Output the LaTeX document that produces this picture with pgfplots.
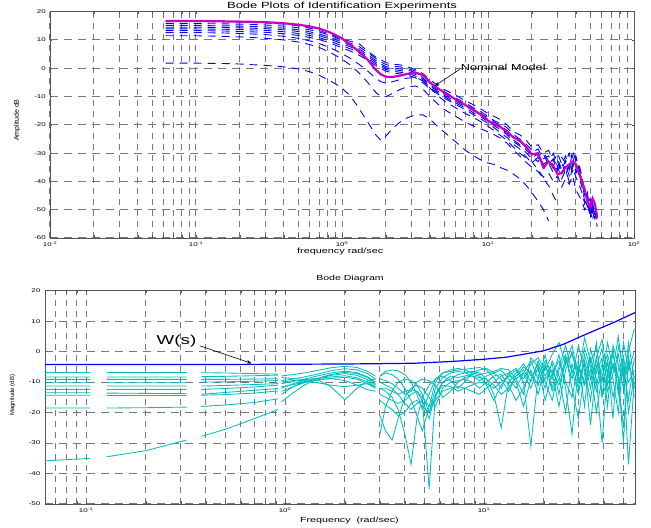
\documentclass[border=0pt]{standalone}
\usepackage{fontspec}
\setmainfont[FakeStretch=1.45]{Liberation Sans}
\newfontfamily\nfont{Liberation Sans}
\usepackage{graphicx}
\usepackage{pgfplots}
\pgfplotsset{compat=1.18}
\usepackage{pgfplotstable}
\usetikzlibrary{arrows.meta}

\definecolor{mblue}{RGB}{0,0,255}
\definecolor{mmag}{RGB}{200,0,200}
\definecolor{mcyan}{RGB}{0,190,190}
\definecolor{gridgray}{RGB}{120,120,120}
\definecolor{framegray}{RGB}{85,85,85}

\pgfplotstableread{
f N U0 U1 U2 U3 U4 U5 L3 L2 L1
0.062 16.7 16.5 15.8 15.1 14.5 13.9 13.3 12.6 11.5 1.8
0.1 16.7 16.5 15.8 15.1 14.5 13.9 13.3 12.6 11.5 1.8
0.15 16.6 16.4 15.7 15.0 14.4 13.8 13.2 12.5 11.3 1.7
0.2 16.5 16.3 15.6 14.9 14.3 13.7 13.0 12.3 11.1 1.5
0.3 16.3 16.0 15.3 14.6 14.0 13.4 12.7 11.9 10.6 1.0
0.4 15.9 15.6 14.9 14.2 13.6 12.9 12.2 11.3 10.0 0.5
0.5 15.4 15.0 14.3 13.6 13.0 12.3 11.6 10.6 9.3 -0.2
0.6 14.8 14.2 13.6 12.9 12.3 11.6 10.9 9.7 8.4 -1.2
0.7 14.0 13.3 12.8 12.1 11.5 10.8 10.1 8.7 7.3 -2.5
0.8 13.0 12.3 11.9 11.2 10.6 9.9 9.2 7.6 6.0 -4.0
0.9 11.8 11.3 10.9 10.2 9.6 8.9 8.2 6.4 4.6 -5.5
1.0 10.5 10.3 9.8 9.2 8.6 7.9 7.2 5.2 3.2 -7.0
1.15 8.2 9.5 8.8 8.1 7.5 6.8 6.0 3.4 1.0 -10.0
1.3 6.0 8.8 7.8 7.0 6.3 5.5 4.7 1.5 -1.5 -14.0
1.5 3.0 6.0 5.5 4.8 4.2 3.5 2.8 -1.0 -5.0 -19.0
1.7 -0.5 4.0 3.5 2.8 2.2 1.6 1.0 -3.5 -8.5 -23.5
1.85 -2.2 3.0 2.2 1.5 1.0 0.4 -0.2 -4.8 -10.0 -25.5
2.0 -3.0 2.0 1.3 0.6 0.1 -0.4 -1.0 -5.2 -10.0 -24.0
2.2 -3.1 1.5 0.8 0.2 -0.4 -1.0 -1.6 -4.8 -9.0 -21.5
2.5 -2.6 1.2 0.5 -0.2 -0.8 -1.4 -2.0 -4.0 -7.5 -19.0
2.8 -2.0 0.5 0.0 -0.6 -1.2 -1.8 -2.4 -3.5 -6.5 -17.5
3.2 -1.6 -0.5 -1.0 -1.5 -2.2 -2.8 -3.4 -3.2 -6.3 -16.5
3.6 -2.4 -2.0 -2.8 -3.5 -4.0 -4.6 -5.2 -4.5 -7.5 -16.5
4.0 -5.0 -4.0 -5.0 -5.8 -6.3 -6.8 -7.3 -7.0 -10.0 -18.0
4.5 -7.0 -6.0 -7.0 -7.6 -8.0 -8.5 -9.0 -9.5 -12.5 -20.5
5.0 -8.5 -7.5 -8.3 -9.0 -9.5 -10.0 -10.5 -11.5 -14.5 -22.5
6.0 -11.0 -9.5 -10.5 -11.0 -11.7 -12.3 -12.8 -14.0 -17.0 -26.0
7.0 -13.0 -11.5 -12.3 -12.8 -13.5 -14.0 -14.6 -16.0 -19.0 -29.0
8.0 -14.8 -13.0 -14.0 -14.5 -15.0 -15.8 -16.5 -17.5 -20.5 -31.0
9.0 -16.5 -14.5 -15.5 -16.2 -16.8 -17.3 -18.0 -19.0 -21.5 -32.5
10 -18.5 -16.0 -17.0 -17.5 -18.0 -18.8 -19.5 -20.5 -22.5 -33.5
11 -19.8 -17.0 -18.5 -19.0 -19.5 -20.3 -21.0 -22.0 -23.5 -34.0
12 -20.5 -18.0 -19.5 -20.0 -21.0 -21.5 -22.5 -23.5 -24.5 -35.0
13.5 -22.5 -20.0 -21.0 -22.0 -23.0 -23.5 -24.5 -25.5 -26.5 -36.0
15 -24.5 -22.5 -23.5 -24.5 -25.5 -26.0 -27.0 -28.0 -29.0 -37.5
16.5 -25.5 -23.5 -25.0 -26.0 -27.0 -27.5 -28.5 -30.0 -31.0 -39.0
18 -27.5 -25.0 -26.5 -27.5 -28.5 -29.5 -31.0 -31.5 -33.0 -41.0
20 -30.5 -28.0 -29.0 -30.0 -31.0 -32.0 -33.5 -33.0 -35.0 -44.0
22 -30.0 -27.0 -31.0 -28.5 -33.0 -30.0 -31.5 -36.0 -36.5 -47.0
24 -35.0 -30.0 -29.5 -32.0 -30.5 -34.0 -35.5 -38.5 -39.0 -50.0
26 -33.0 -29.0 -33.0 -31.0 -34.0 -32.5 -33.5 -37.0 -41.5 -54.0
28 -34.5 -33.0 -30.0 -34.5 -32.0 -35.5 -37.0 -40.0 -45.0 nan
30 -37.5 -30.0 -35.0 -32.0 -36.0 -33.0 -35.0 -38.0 -48.0 nan
32 -37.0 -34.0 -31.5 -36.0 -33.0 -37.5 -39.0 -42.0 nan nan
34 -35.0 -31.0 -33.5 -32.5 -38.0 -34.0 -36.0 -39.0 nan nan
36 -34.0 -36.0 -30.0 -35.5 -33.5 -38.0 -40.0 -41.0 nan nan
38 -33.0 -29.0 -35.0 -31.0 -36.5 -34.0 -35.0 -38.0 nan nan
40 -34.0 -33.0 -31.0 -37.0 -32.0 -37.0 -38.5 -43.0 nan nan
42 -37.0 -35.0 -36.0 -34.0 -38.5 -35.0 -41.0 -45.0 nan nan
44 -40.0 -39.0 -41.0 -38.0 -42.0 -40.0 -44.0 -47.0 nan nan
46 -43.0 -44.0 -42.0 -45.0 -47.0 -46.0 -48.0 -50.0 nan nan
48 -47.0 -45.0 -48.0 -46.0 -44.0 -49.0 -45.0 -48.0 nan nan
50 -49.0 -52.0 -46.0 -50.0 -53.0 -47.0 -50.0 -52.0 nan nan
52 -46.0 -48.0 -51.0 -47.0 -49.0 -52.0 -54.0 -49.0 nan nan
54 -48.0 -50.0 -49.0 -53.0 -52.0 -51.0 -49.0 -53.0 nan nan
56 -53.0 -55.0 -54.0 -50.0 -56.0 -54.0 -52.0 -51.0 nan nan
}\toptable

\pgfplotstableread{
f c1 c2 c3 c4 c5 c6 c7 c8 c9 c10
0.06 -6.9 -8.3 -9.1 -10.2 -11.3 -12.4 -13.5 -14.3 -18.5 -35.9
0.105 -6.9 -8.3 -9.1 -10.2 -11.3 -12.4 -13.5 -14.3 -18.5 -35.0
nan nan nan nan nan nan nan nan nan nan nan
0.127 -6.9 -8.3 -9.1 -10.2 -11.3 -12.4 -13.6 -14.4 -18.5 -34.5
0.2 -6.9 -8.3 -9.1 -10.2 -11.3 -12.4 -13.7 -14.4 -18.4 -32.5
0.32 -6.9 -8.3 -9.1 -10.2 -11.3 -12.4 -13.8 -14.4 -18.2 -29.0
nan nan nan nan nan nan nan nan nan nan nan
0.38 -6.9 -8.2 -9.1 -10.0 -11.3 -12.4 -14.0 -14.3 -18.0 -27.8
0.5 -7.0 -8.1 -9.1 -9.9 -11.1 -12.1 -13.4 -14.1 -17.5 -25.5
0.7 -7.2 -7.9 -9.0 -9.7 -10.8 -11.6 -12.7 -13.6 -16.7 -22.0
0.92 -7.4 -7.7 -8.9 -9.5 -10.5 -11.0 -12.1 -12.9 -15.5 -19.0
nan nan nan nan nan nan nan nan nan nan nan
0.96 -8.0 -9.5 -10.5 -8.5 -12.0 -11.5 -13.0 -10.0 -14.0 -16.5
1.1 -7.5 -9.0 -9.8 -8.8 -10.5 -10.8 -11.5 -9.5 -11.5 -13.5
1.25 -7.0 -8.3 -9.0 -9.2 -9.5 -10.0 -10.2 -9.5 -9.8 -11.0
1.45 -6.2 -7.4 -8.0 -8.8 -8.8 -9.4 -9.2 -10.2 -9.2 -8.8
1.7 -5.3 -6.3 -7.0 -7.8 -8.3 -8.8 -8.8 -11.0 -11.5 -7.5
2.0 -4.8 -5.6 -6.4 -7.2 -7.9 -8.4 -9.5 -11.5 -15.8 -6.8
2.3 -5.2 -6.0 -6.9 -7.8 -8.6 -9.0 -11.0 -11.0 -12.0 -7.2
2.6 -6.5 -7.2 -8.3 -9.2 -10.0 -10.6 -12.5 -10.5 -9.5 -8.5
2.85 -8.0 -9.0 -10.0 -11.0 -11.6 -12.0 -13.0 -11.5 -9.0 -10.5
nan nan nan nan nan nan nan nan nan nan nan
3.0 -8 -27 -12 -10 -21 -14 -16 -12 -9 -8
3.2 -6.5 -18 -13 -11 -26 -15 -17.5 -12 -9.5 -7
3.45 -6.0 -13 -15 -12 -29 -16 -19 -13 -10.5 -7.5
3.7 -6.3 -10 -19 -14 -22 -17 -21 -14 -12 -9
4.0 -7.5 -9 -27 -17 -15 -16 -20 -13 -14 -12
4.3 -10 -9.5 -37 -19 -12 -14 -17 -12.5 -13 -16
4.6 -14 -11 -22 -17 -11 -13 -16 -13 -10 -21
4.9 -19 -14 -15 -16 -12 -15 -18 -16 -9 -26
5.3 -14 -20 -11 -45 -15 -18 -20 -22 -9.5 -18
5.7 -9 -12 -9 -14 -18 -16 -15 -14 -11 -10
6.2 -7 -8.5 -8 -10 -12 -13 -10 -11 -15 -7
6.8 -6.5 -7 -9.5 -9 -10 -12 -8 -11.5 -13 -6
7.4 -6 -6.5 -12 -7.5 -9.5 -11.5 -8.5 -13 -10 -5.5
8.0 -5.8 -6.8 -10 -7 -9 -12 -8 -12 -8.5 -6
8.7 -5.5 -8 -7 -6.5 -10 -13 -7.5 -11 -8 -7
9.5 -5.2 -9.5 -6 -7 -12 -14 -8 -10 -8.5 -7.5
10.3 -6 -8 -5.5 -9 -10 -12 -11 -10.5 -9 -7
11.2 -8.5 -7 -7 -14 -8 -10 -16 -12 -11 -6.5
12.2 -12 -9 -6 -25 -7.5 -8 -11 -10 -14 -5.5
13.3 -7 -13 -9 -10 -11 -7 -8 -8 -12 -6
14.5 -5.5 -8 -12 -7 -16 -10 -6 -9 -8 -9
15.8 -9 -6 -7 -4 -12 -18 -10 -7 -5 -14
17.2 -4 -10 -3 -8 -6 -9 -31 -12 -7 -2
18.7 -2 -3 -9 -6 -14 -4 -8 -5 -11 -5
20.3 -6 -8 -1 -12 -5 -10 -3 -16 -4 -9
22 -1 -4 -12 -3 -9 -16 -7 -7 -13 -6
23.8 3 -14 -5 -8 -1 -6 -18 -3 -9 -11
25.7 -4 -2 2 -20 -12 -1 -6 -10 -3 -4
27.7 2 -9 -7 -4 -27 -12 0 -15 -6 -1
29.8 -8 2 -3 -12 -5 -22 -10 -4 -14 -7
32 4.5 -6 -18 -1 -10 -7 -4 -11 -3 1
34.3 -3 -16 1 -9 -3 -2 -24 -6 -12 -5
36.7 1 -2 -7 3 -13 -9 -5 -20 -2 -11
39.2 -10 4 -2 -14 -6 -30 1 -8 -15 -4
41.8 3 -8 -18 -3 -1 -6 -11 -3 -9 -13
44.5 -6 1 2 -22 -9 -1 -4 -15 -4 -7
47.3 5 -14 -4 2 -20 -9 -8 -6 -12 -1
50.2 -8 3 -12 -5 -2 -25 -30 -2 -5 -9
53.2 0 -6 3 -16 -10 -4 -1 -20 -37 -3
56.9 7.5 0 -9 -2 -6 -12 -15 -8 -10 -12
}\bottable

\pgfplotsset{
  matlab/.style={
    scale only axis,
    axis line style={framegray, line width=0.9bp},
    tick style={framegray, line width=0.6bp},
    tick align=inside,
    major tick length=2.5bp,
    xmajorgrids, ymajorgrids,
    grid style={gridgray, line width=1.0bp},
    major x grid style={dash pattern=on 6bp off 5bp},
    major y grid style={dash pattern=on 8bp off 6bp},
    ticklabel style={font=\fontsize{5.5}{6}\selectfont},
    xticklabel style={anchor=base, yshift=-9bp, inner sep=0pt},
    yticklabel style={anchor=east, inner sep=0pt, xshift=-4bp},
    unbounded coords=jump,
    filter discard warning=false,
  },
  bd/.style={mblue, line width=0.9bp, dash pattern=on 8bp off 6bp},
  cy/.style={mcyan, line width=0.85bp},
}

\begin{document}
\begin{tikzpicture}[x=1bp,y=1bp]
\path[use as bounding box] (0,0) rectangle (651,528);

\begin{semilogxaxis}[matlab,
  at={(50bp,290bp)}, anchor=south west,
  width=584bp, height=226.3bp,
  xmin=0.01, xmax=100, ymin=-60, ymax=20,
  xtick={0.01,0.02,0.03,0.04,0.05,0.06,0.07,0.08,0.09,0.1,0.2,0.3,0.4,0.5,0.6,0.7,0.8,0.9,1,2,3,4,5,6,7,8,9,10,20,30,40,50,60,70,80,90,100},
  xticklabels={10\textsuperscript{-2},,,,,,,,,10\textsuperscript{-1},,,,,,,,,10\textsuperscript{0},,,,,,,,,10\textsuperscript{1},,,,,,,,,10\textsuperscript{2}},
  ytick={-60,-50,-40,-30,-20,-10,0,10,20},
  yticklabels={-60,-50,-40,-30,-20,-10,0,10,20},
  title={Bode Plots of Identification Experiments},
  title style={at={(0.5,1)}, anchor=base, yshift=-3bp, inner sep=0pt, font=\fontsize{9}{10}\selectfont},
  xlabel={frequency rad/sec},
  xlabel style={at={(axis description cs:0.497,0)}, anchor=base, yshift=-15.5bp, inner sep=0pt, font=\fontsize{7.5}{8}\selectfont},
  ylabel={Amplitude dB},
  ylabel style={at={(axis description cs:-0.0565,0.521)}, anchor=center, inner sep=0pt, font=\nfont\fontsize{7}{8}\selectfont},
]
\addplot[bd] table[x=f,y=L1]{\toptable};
\addplot[bd] table[x=f,y=L2]{\toptable};
\addplot[bd] table[x=f,y=L3]{\toptable};
\addplot[bd] table[x=f,y=U5]{\toptable};
\addplot[bd] table[x=f,y=U4]{\toptable};
\addplot[bd] table[x=f,y=U3]{\toptable};
\addplot[bd] table[x=f,y=U2]{\toptable};
\addplot[bd] table[x=f,y=U1]{\toptable};
\addplot[bd] table[x=f,y=U0]{\toptable};
\addplot[mmag, line width=2.2bp] table[x=f,y=N]{\toptable};
\node[anchor=west, inner sep=0pt, font=\fontsize{8.8}{9}\selectfont] at (axis cs:6.5,0.2) {Nominal Model};
\draw[-{Stealth[length=5bp,width=3.5bp]}, line width=0.6bp] (axis cs:6.4,-0.4) -- (axis cs:4.3,-6.3);
\end{semilogxaxis}

\begin{semilogxaxis}[matlab,
  at={(45bp,24bp)}, anchor=south west,
  width=590bp, height=213.3bp,
  xmin=0.0622, xmax=57.4, ymin=-50, ymax=20,
  xtick={0.07,0.08,0.09,0.1,0.2,0.3,0.4,0.5,0.6,0.7,0.8,0.9,1,2,3,4,5,6,7,8,9,10,20,30,40,50},
  xticklabels={,,,10\textsuperscript{-1},,,,,,,,,10\textsuperscript{0},,,,,,,,,10\textsuperscript{1},,,,},
  ytick={-50,-40,-30,-20,-10,0,10,20},
  yticklabels={-50,-40,-30,-20,-10,0,10,20},
  yticklabel style={xshift=-0.5bp},
  title={Bode Diagram},
  title style={at={(0.517,1)}, anchor=base, yshift=4bp, inner sep=0pt, font=\fontsize{7.3}{8}\selectfont},
  xlabel={Frequency\ \ (rad/sec)},
  xlabel style={at={(axis description cs:0.516,0)}, anchor=base, yshift=-18.5bp, inner sep=0pt, font=\fontsize{7.4}{8}\selectfont},
  ylabel={Magnitude (dB)},
  ylabel style={at={(axis description cs:-0.055,0.51)}, anchor=center, inner sep=0pt, font=\nfont\fontsize{6}{7}\selectfont},
]
\addplot[cy] table[x=f,y=c1]{\bottable};
\addplot[cy] table[x=f,y=c2]{\bottable};
\addplot[cy] table[x=f,y=c3]{\bottable};
\addplot[cy] table[x=f,y=c4]{\bottable};
\addplot[cy] table[x=f,y=c5]{\bottable};
\addplot[cy] table[x=f,y=c6]{\bottable};
\addplot[cy] table[x=f,y=c7]{\bottable};
\addplot[cy] table[x=f,y=c8]{\bottable};
\addplot[cy] table[x=f,y=c9]{\bottable};
\addplot[cy] table[x=f,y=c10]{\bottable};
\addplot[mblue, line width=1.2bp] coordinates {
(0.0622,-4.2) (0.5,-4.2) (1,-4.15) (2,-4.05) (3,-3.95) (4.5,-3.8) (7,-3.2) (10,-2.5) (13,-1.8) (16,-0.8) (20,0.3) (25,2.4) (30,4.7) (35,6.6) (40,8.2) (45,9.6) (50,11.0) (57.4,12.8)
};
\node[inner sep=0pt, font=\fontsize{13}{14}\selectfont] at (axis cs:0.285,3.6) {W(s)};
\draw[-{Stealth[length=5bp,width=3.5bp]}, line width=0.6bp] (axis cs:0.374,1.9) -- (axis cs:0.68,-3.85);
\end{semilogxaxis}
\end{tikzpicture}
\end{document}
